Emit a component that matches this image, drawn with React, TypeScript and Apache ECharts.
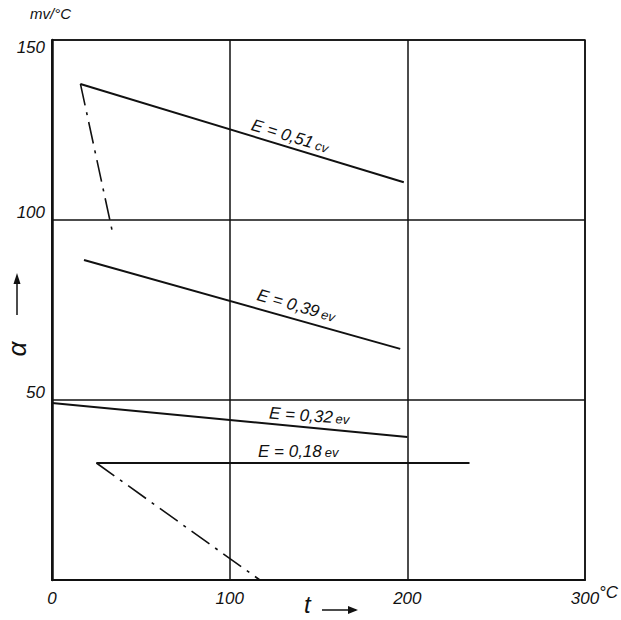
import React, { useEffect, useRef } from "react";
import * as echarts from "echarts";

const xTicks = [0, 100, 200, 300];
const yTicks = [0, 50, 100, 150];

const line051: [number, number][] = [[16, 137.8], [198, 110.5]];
const dash051: [number, number][] = [[16, 137.8], [34, 96.7]];
const line039: [number, number][] = [[18, 88.9], [196, 64.2]];
const line032: [number, number][] = [[0, 49.2], [200, 39.7]];
const line018: [number, number][] = [[25, 32.5], [235, 32.5]];
const dash018: [number, number][] = [[25, 32.5], [117, 0]];

const labels = [
  { name: "E = 0,51", unit: "cv", coord: [134, 123.3], rotate: -17 },
  { name: "E = 0,39", unit: "ev", coord: [137.5, 76.2], rotate: -16 },
  { name: "E = 0,32", unit: "ev", coord: [144.8, 45.6], rotate: -4 },
  { name: "E = 0,18", unit: "ev", coord: [138.6, 35.6], rotate: 0 },
];

const FONT = "'Liberation Sans', 'DejaVu Sans', sans-serif";

export default function App() {
  const ref = useRef<HTMLDivElement>(null);
  useEffect(() => {
    if (!ref.current) return;
    const chart = echarts.init(ref.current, undefined, { renderer: "svg" });
    const solid = (data: [number, number][]) => ({
      type: "line",
      data,
      symbol: "none",
      silent: true,
      lineStyle: { color: "#111", width: 2 },
    });
    const dashed = (data: [number, number][]) => ({
      type: "line",
      data,
      symbol: "none",
      silent: true,
      lineStyle: { color: "#111", width: 1.6, type: [22, 7, 3, 7] },
    });
    chart.setOption({
      animation: false,
      backgroundColor: "#fff",
      grid: {
        left: 52,
        top: 40,
        width: 533,
        height: 540,
        show: true,
        borderColor: "#111",
        borderWidth: 1.5,
        backgroundColor: "transparent",
      },
      xAxis: {
        type: "value",
        min: 0,
        max: 300,
        interval: 100,
        axisLine: { show: true, lineStyle: { color: "#111", width: 2 } },
        axisTick: { show: false },
        splitLine: { show: true, lineStyle: { color: "#111", width: 1.5 } },
        axisLabel: {
          margin: 10,
          fontFamily: FONT,
          fontStyle: "italic",
          fontSize: 17,
          color: "#111",
          formatter: (v: number) => (xTicks.includes(v) ? String(v) : ""),
        },
      },
      yAxis: {
        type: "value",
        min: 0,
        max: 150,
        interval: 50,
        axisLine: { show: true, lineStyle: { color: "#111", width: 2.5 } },
        axisTick: { show: false },
        splitLine: { show: true, lineStyle: { color: "#111", width: 1.5 } },
        axisLabel: {
          margin: 7,
          fontFamily: FONT,
          fontStyle: "italic",
          fontSize: 17,
          color: "#111",
          formatter: (v: number) => {
            if (v === 0 || !yTicks.includes(v)) return "";
            return v === 150 ? "{a|" + v + "}" : "{b|" + v + "}";
          },
          rich: {
            a: { fontFamily: FONT, fontStyle: "italic", fontSize: 17, color: "#111", padding: [14, 0, 0, 0] },
            b: { fontFamily: FONT, fontStyle: "italic", fontSize: 17, color: "#111", padding: [0, 0, 16, 0] },
          },
        },
      },
      series: [
        {
          ...solid(line051),
          markPoint: {
            symbol: "circle",
            symbolSize: 0,
            silent: true,
            data: labels.map((l) => ({
              coord: l.coord,
              label: {
                show: true,
                position: "inside",
                rotate: l.rotate,
                formatter: "{m|" + l.name + "}{u|" + l.unit + "}",
                rich: {
                  m: { fontFamily: FONT, fontStyle: "italic", fontSize: 17, color: "#111" },
                  u: { fontFamily: FONT, fontStyle: "italic", fontSize: 13, color: "#111", padding: [2, 0, 0, 3] },
                },
              },
            })),
          },
        },
        dashed(dash051),
        solid(line039),
        solid(line032),
        solid(line018),
        dashed(dash018),
      ],
      graphic: [
        { type: "text", left: 30, top: 6, style: { text: "mv/°C", font: "italic 15px " + FONT, fill: "#111" } },
        { type: "text", left: 599, top: 584, style: { text: "°C", font: "italic 17px " + FONT, fill: "#111" } },
        { type: "text", left: 304, top: 592, style: { text: "t", font: "italic 24px " + FONT, fill: "#111" } },
        { type: "line", shape: { x1: 322, y1: 610, x2: 356, y2: 610 }, style: { stroke: "#111", lineWidth: 1.5 } },
        { type: "polygon", shape: { points: [[358, 610], [348, 606], [348, 614]] }, style: { fill: "#111" } },
        { type: "line", shape: { x1: 17, y1: 315, x2: 17, y2: 278 }, style: { stroke: "#111", lineWidth: 1.5 } },
        { type: "polygon", shape: { points: [[17, 273], [13.5, 284], [20.5, 284]] }, style: { fill: "#111" } },
        {
          type: "text",
          x: 17,
          y: 349,
          rotation: Math.PI / 2,
          style: { text: "α", font: "italic 26px " + FONT, fill: "#111", align: "center", verticalAlign: "middle" },
        },
      ],
    });
    return () => chart.dispose();
  }, []);
  return <div ref={ref} style={{ position: "fixed", left: 0, top: 0, width: 621, height: 620 }} />;
}
